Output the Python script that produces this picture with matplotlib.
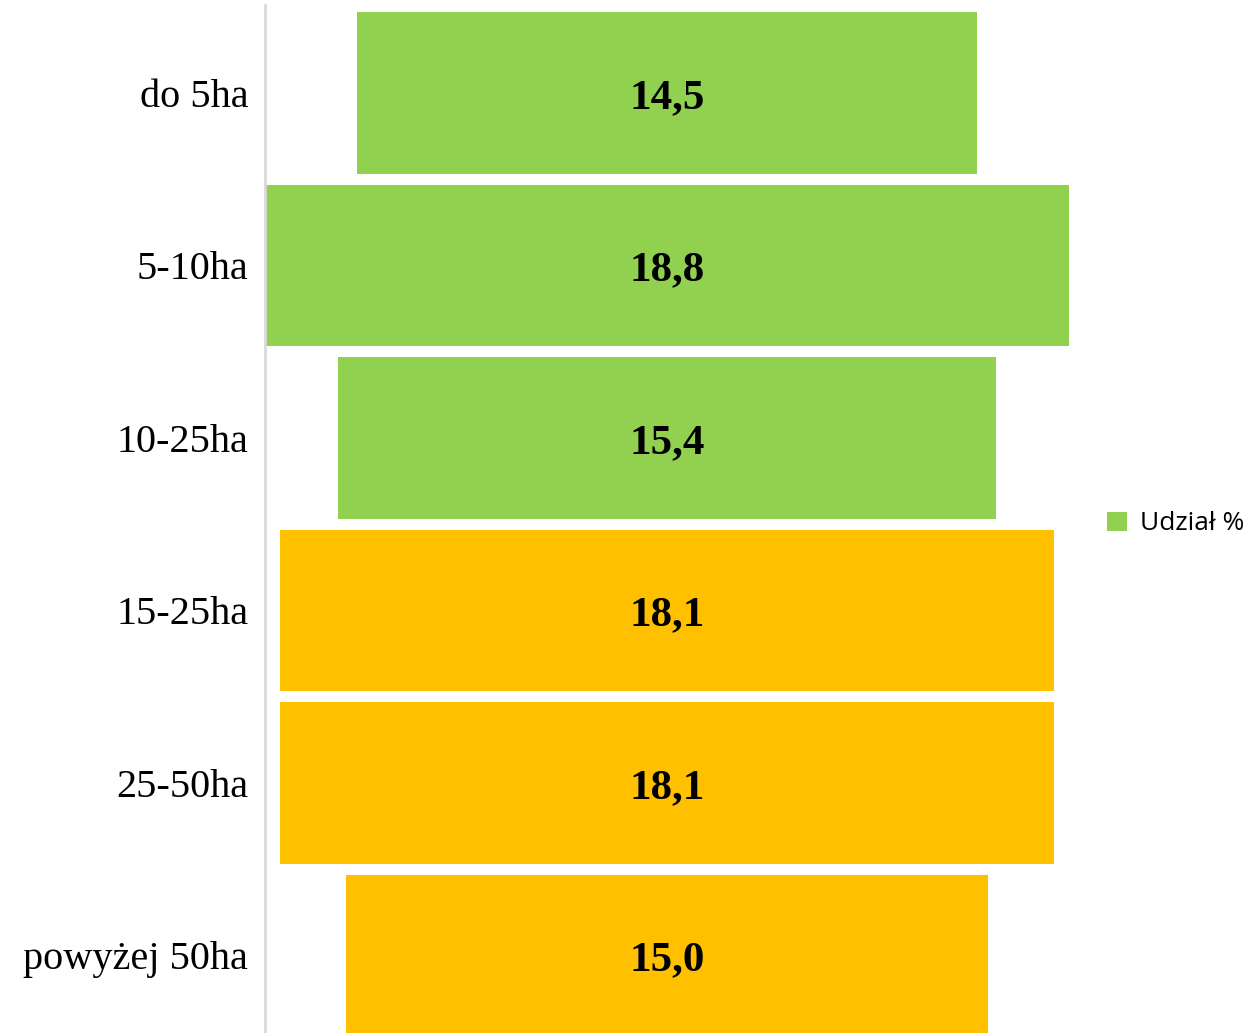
import matplotlib
matplotlib.use("Agg")
import matplotlib.pyplot as plt
from matplotlib.patches import Patch

categories = ["do 5ha", "5-10ha", "10-25ha", "15-25ha", "25-50ha", "powyżej 50ha"]
values = [14.5, 18.8, 15.4, 18.1, 18.1, 15.0]
value_labels = ["14,5", "18,8", "15,4", "18,1", "18,1", "15,0"]
bar_colors = ["#92D050", "#92D050", "#92D050", "#FFC000", "#FFC000", "#FFC000"]
series_name = "Udział %"

W, H = 1254, 1033
fig = plt.figure(figsize=(W / 100, H / 100), dpi=100)
ax = fig.add_axes([265 / W, 0, (1069 - 265) / W, (1033 - 5) / H])

ypos = list(range(len(categories)))
lefts = [-v / 2 for v in values]
ax.barh(ypos, values, left=lefts, height=0.935, color=bar_colors, zorder=2)

# value labels: digits centred vertically on each bar
for y, lab in zip(ypos, value_labels):
    ax.annotate(lab, xy=(0, y), xytext=(0, -10.8), textcoords="offset points",
                ha="center", va="baseline", fontsize=31,
                fontweight="bold", family="Liberation Serif", color="black",
                zorder=3)

half = max(values) / 2
ax.set_xlim(-half, half)
ax.set_ylim(5.45, -0.51)

ax.set_yticks(ypos)
ax.set_yticklabels(categories, family="Liberation Serif", fontsize=29)
ax.tick_params(axis="y", length=0, pad=12)
ax.set_xticks([])

for side in ["top", "right", "bottom"]:
    ax.spines[side].set_visible(False)
ax.spines["left"].set_color("#D9D9D9")
ax.spines["left"].set_linewidth(2)

handle = Patch(facecolor="#92D050", edgecolor="none")
fig.legend([handle], [series_name], loc="center left",
           bbox_to_anchor=(1083 / W, 1 - 524 / H), frameon=False,
           prop={"family": "Open Sans", "size": 19},
           handlelength=0.75, handleheight=0.75, handletextpad=0.5)

fig.savefig("out.png", dpi=100)
